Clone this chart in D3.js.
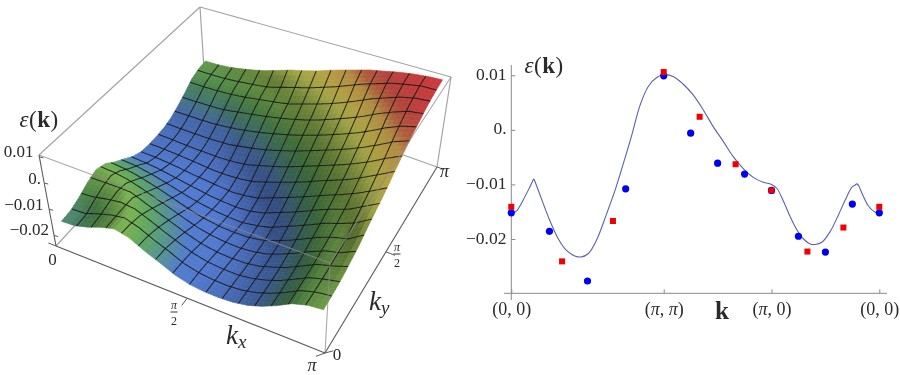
<!DOCTYPE html>
<html>
<head>
<meta charset="utf-8">
<script src="https://cdn.jsdelivr.net/npm/d3@7"></script>
<style>
body { margin: 0; background: #fff; }
svg { display: block; filter: blur(0.35px); }
text { font-family: "Liberation Serif", serif; fill: #2a2a2a; }
</style>
</head>
<body>
<div id="wrapper"></div>
<script>
// surface heights in units of 1e-4, one row per ky step, one column per kx step
const surfaceRows = [
  [-153,-150,-135,-115,-101,-113,-142,-165,-190,-205,-211,-212,-208,-198,-180,-155,-125,-108,-102],
  [-150,-148,-129,-112,-102,-118,-145,-167,-193,-206,-212,-213,-209,-197,-179,-154,-124,-108,-100],
  [-135,-129,-115,-107,-107,-129,-154,-176,-197,-209,-214,-215,-209,-196,-177,-151,-123,-107,-96],
  [-115,-112,-107,-100,-122,-145,-166,-187,-205,-214,-217,-217,-209,-194,-175,-149,-120,-105,-88],
  [-101,-102,-107,-122,-143,-161,-181,-200,-213,-220,-221,-217,-208,-189,-168,-141,-116,-101,-78],
  [-113,-118,-129,-145,-161,-180,-197,-213,-220,-224,-225,-218,-205,-184,-158,-132,-110,-97,-67],
  [-142,-145,-154,-166,-181,-197,-213,-221,-228,-228,-225,-215,-195,-173,-149,-123,-103,-88,-50],
  [-165,-167,-176,-187,-200,-213,-221,-228,-231,-232,-221,-208,-185,-162,-138,-113,-95,-70,-36],
  [-190,-193,-197,-205,-213,-220,-228,-231,-233,-227,-214,-192,-172,-149,-124,-103,-84,-53,-22],
  [-205,-206,-209,-214,-220,-224,-228,-232,-227,-217,-197,-177,-156,-134,-111,-90,-66,-38,-7],
  [-211,-212,-214,-217,-221,-225,-225,-221,-214,-197,-179,-160,-140,-117,-96,-75,-48,-19,12],
  [-212,-213,-215,-217,-217,-218,-215,-208,-192,-177,-160,-140,-120,-99,-79,-56,-30,0,29],
  [-208,-209,-209,-209,-208,-205,-195,-185,-172,-156,-140,-120,-100,-80,-59,-35,-9,22,45],
  [-198,-197,-196,-194,-189,-184,-173,-162,-149,-134,-117,-99,-80,-60,-38,-14,15,43,61],
  [-180,-179,-177,-175,-168,-158,-149,-138,-124,-111,-96,-79,-59,-38,-16,11,40,60,72],
  [-158,-157,-154,-151,-143,-133,-123,-113,-103,-90,-75,-56,-35,-14,11,38,58,78,84],
  [-132,-131,-129,-125,-120,-112,-103,-95,-84,-66,-48,-30,-9,15,40,58,78,88,93],
  [-120,-119,-117,-112,-105,-98,-88,-70,-53,-38,-19,0,22,43,60,78,88,98,99],
  [-116,-114,-108,-98,-86,-72,-54,-36,-22,-7,12,29,45,61,72,84,93,99,102]
];
const surfaceTicksZ = [0.01, 0, -0.01, -0.02];
const surfaceLabelsZ = ["0.01", "0.", "\u22120.01", "\u22120.02"];
const colorStopsZ = [-235, -190, -155, -125, -90, -40, -5, 30, 50, 70, 102];
const colorStops = ["#4a6cc0", "#4a70ba", "#4d8a78", "#5a9a50", "#7fa848", "#aab24a", "#c4b04a", "#c49a48", "#bb6440", "#bf4640", "#cc383c"];

// line along the path (0,0) -> (pi,pi) -> (pi,0) -> (0,0), x in units of pi
const curveK = [0,.047,.109,.171,.195,.208,.222,.279,.357,.434,.512,.589,.645,.713,.791,.884,.962,1.039,1.117,1.194,1.272,1.349,1.414,
  1.501,1.594,1.687,1.78,1.873,1.966,2.059,2.152,2.245,2.338,2.414,2.463,2.525,2.587,2.649,2.711,2.773,2.82,2.881,2.959,3.037,3.099,3.16,3.19,3.207,3.224,3.253,3.315,3.377,3.414];
const curveE = [-.0154,-.0149,-.0129,-.0105,-.0095,-.009,-.0096,-.0126,-.0166,-.0199,-.0221,-.0231,-.0233,-.0227,-.0202,-.0154,-.0111,-.0062,-.001,.0045,.008,.0096,.0101,
  .0098,.0084,.0064,.0037,.0006,-.0021,-.0049,-.0071,-.0087,-.0096,-.0100,-.0107,-.0131,-.0159,-.0183,-.02,-.0209,-.021,-.0206,-.0186,-.0155,-.0128,-.0105,-.0101,-.0099,-.0103,-.0116,-.014,-.0151,-.0152];
const blueK = [0,.354,.707,1.061,1.414,1.664,1.914,2.164,2.414,2.664,2.914,3.164,3.414];
const blueE = [-.0152,-.0186,-.0277,-.0108,.0099,-.0006,-.0061,-.0081,-.0111,-.0195,-.0224,-.0136,-.0152];
const redK = [0,.471,.943,1.414,1.747,2.081,2.414,2.747,3.081,3.414];
const redE = [-.0141,-.0241,-.0167,.0106,.0024,-.0063,-.0111,-.0223,-.0179,-.0141];
const pathTicksK = [0, 1.414, 2.414, 3.414];
const pathLabels = ["(0, 0)", "(\u03c0, \u03c0)", "(\u03c0, 0)", "(0, 0)"];
const pathTicksE = [0.01, 0, -0.01, -0.02];
const pathLabelsE = ["0.01", "0.", "\u22120.01", "\u22120.02"];

const svg = d3.select("#wrapper").append("svg").attr("width", 900).attr("height", 375);

// ---------- 3d box, projected with one homography per horizontal plane
function homography(p) {
  const [x0,y0] = p[0], [x1,y1] = p[1], [x2,y2] = p[2], [x3,y3] = p[3];
  const dx1 = x1-x2, dx2 = x3-x2, sx = x0-x1+x2-x3;
  const dy1 = y1-y2, dy2 = y3-y2, sy = y0-y1+y2-y3;
  const den = dx1*dy2 - dx2*dy1;
  const g = (sx*dy2 - dx2*sy)/den, h = (dx1*sy - sx*dy1)/den;
  const a = x1-x0+g*x1, b = x3-x0+h*x3, d = y1-y0+g*y1, e = y3-y0+h*y3;
  return (u, v) => {
    const w = g*u + h*v + 1;
    return [(a*u + b*v + x0)/w, (d*u + e*v + y0)/w];
  };
}
const bottomPlane = homography([[56,246],[325,353],[437,167],[205,84]]);
const topPlane = homography([[39,155],[330,263],[451,77],[200,7]]);
const zScale = d3.scaleLinear().domain([-.024, .0107]).range([0, 1]);
const boxPad = d3.scaleLinear().domain([0, 1]).range([.022, .978]);  // surface sits inside the box
function project(u, v, z) {
  const w = zScale(z), b = bottomPlane(boxPad(u), boxPad(v)), t = topPlane(boxPad(u), boxPad(v));
  return [b[0] + (t[0]-b[0])*w, b[1] + (t[1]-b[1])*w];
}

const n = surfaceRows.length - 1;
// height at a fractional position of the read grid
function heightAt(u, v) {
  const fi = Math.min(u*n, n-1e-6), fj = Math.min(v*n, n-1e-6);
  const i = Math.floor(fi), j = Math.floor(fj), a = fi-i, b = fj-j;
  return (surfaceRows[j][i]*(1-a)*(1-b) + surfaceRows[j][i+1]*a*(1-b)
    + surfaceRows[j+1][i]*(1-a)*b + surfaceRows[j+1][i+1]*a*b);
}
const heightColor = d3.scaleLinear().domain(colorStopsZ).range(colorStops).clamp(true);
const shadeReach = d3.scaleLinear().domain([-150, -90, -30]).range([1, 1, .25]).clamp(true);

function cellColor(u, v) {
  const h = .5/n, z = heightAt(u, v);
  const dzu = (heightAt(Math.min(u+h,1), v) - heightAt(Math.max(u-h,0), v));
  const dzv = (heightAt(u, Math.min(v+h,1)) - heightAt(u, Math.max(v-h,0)));
  const raw = shadeReach(z)*(-.012*dzu - .004*dzv);
  const shade = 1 + Math.max(-.36, Math.min(.1, raw));
  const c = d3.rgb(heightColor(z));
  return d3.rgb(c.r*shade, c.g*shade, c.b*shade).formatHex();
}

const sub = n*3;
const cells = [];
// painter's order: far corner first
for (let j = sub-1; j >= 0; j--) {
  for (let i = 0; i < sub; i++) cells.push({u0: i/sub, u1: (i+1)/sub, v0: j/sub, v1: (j+1)/sub});
}
const surfacePoint = (u, v) => project(u, v, heightAt(u, v)/1e4);

// back edges of the box go under the surface
const boxStroke = "#a4a4a4";
const backEdges = [
  [[0,1,0],[0,1,1]], [[0,0,1],[0,1,1]], [[0,1,1],[1,1,1]], [[0,0,0],[0,1,0]], [[0,1,0],[1,1,0]], [[1,1,0],[1,1,1]]
];
function boxPoint(c) {
  const b = bottomPlane(c[0], c[1]), t = topPlane(c[0], c[1]);
  return c[2] ? t : b;
}
svg.append("g").selectAll("line").data(backEdges).join("line")
  .attr("x1", d => boxPoint(d[0])[0]).attr("y1", d => boxPoint(d[0])[1])
  .attr("x2", d => boxPoint(d[1])[0]).attr("y2", d => boxPoint(d[1])[1])
  .attr("stroke", boxStroke).attr("stroke-width", 1.2);

svg.append("g").selectAll("polygon").data(cells).join("polygon")
  .attr("points", d => [surfacePoint(d.u0,d.v0), surfacePoint(d.u1,d.v0), surfacePoint(d.u1,d.v1), surfacePoint(d.u0,d.v1)].join(" "))
  .attr("fill", d => cellColor((d.u0+d.u1)/2, (d.v0+d.v1)/2))
  .attr("stroke", d => cellColor((d.u0+d.u1)/2, (d.v0+d.v1)/2))
  .attr("stroke-width", .6);

// mesh, 15 lines each way like the original plot
const meshLine = d3.line();
const meshT = d3.range(0, 145).map(d => d/144);
const meshG = svg.append("g").attr("fill", "none").attr("stroke", "#141414").attr("stroke-opacity", .82).attr("stroke-width", 1.05);
d3.range(1, 16).forEach(k => {
  meshG.append("path").attr("d", meshLine(meshT.map(t => surfacePoint(k/16, t))));
  meshG.append("path").attr("d", meshLine(meshT.map(t => surfacePoint(t, k/16))));
});

// front edges over the surface
const frontEdges = [[[0,0,1],[1,0,1]], [[1,0,1],[1,1,1]], [[1,0,0],[1,0,1]]];
svg.append("g").selectAll("line").data(frontEdges).join("line")
  .attr("x1", d => boxPoint(d[0])[0]).attr("y1", d => boxPoint(d[0])[1])
  .attr("x2", d => boxPoint(d[1])[0]).attr("y2", d => boxPoint(d[1])[1])
  .attr("stroke", "#8c8c8c").attr("stroke-opacity", .75).attr("stroke-width", 1.1);

// axes with ticks
const axisEdges = [[[0,0,0],[0,0,1]], [[0,0,0],[1,0,0]], [[1,0,0],[1,1,0]]];
svg.append("g").selectAll("line").data(axisEdges).join("line")
  .attr("x1", d => boxPoint(d[0])[0]).attr("y1", d => boxPoint(d[0])[1])
  .attr("x2", d => boxPoint(d[1])[0]).attr("y2", d => boxPoint(d[1])[1])
  .attr("stroke", "#5a5a5a").attr("stroke-width", 1.1);

const floorTicks = [
  [0,0,-.03,0], [.5,0,0,-.035], [1,0,-.02,-.025], [1,0,.02,.02], [1,.5,.035,0], [1,1,.03,0]
];
svg.append("g").selectAll("line").data(floorTicks).join("line")
  .attr("x1", d => bottomPlane(d[0],d[1])[0]).attr("y1", d => bottomPlane(d[0],d[1])[1])
  .attr("x2", d => bottomPlane(d[0]+d[2],d[1]+d[3])[0]).attr("y2", d => bottomPlane(d[0]+d[2],d[1]+d[3])[1])
  .attr("stroke", "#5a5a5a").attr("stroke-width", 1);
const boxCorner = [0, 0];
svg.append("g").selectAll("line").data(surfaceTicksZ).join("line")
  .attr("x1", d => { const b = bottomPlane(...boxCorner), t = topPlane(...boxCorner); return b[0] + (t[0]-b[0])*zScale(d); })
  .attr("y1", d => { const b = bottomPlane(...boxCorner), t = topPlane(...boxCorner); return b[1] + (t[1]-b[1])*zScale(d); })
  .attr("x2", d => { const b = bottomPlane(...boxCorner), t = topPlane(...boxCorner); return b[0] + (t[0]-b[0])*zScale(d) + 4; })
  .attr("y2", d => { const b = bottomPlane(...boxCorner), t = topPlane(...boxCorner); return b[1] + (t[1]-b[1])*zScale(d) + 1; })
  .attr("stroke", "#5a5a5a").attr("stroke-width", 1);

function label(x, y, str, size, anchor, style) {
  const t = svg.append("text").attr("x", x).attr("y", y).attr("font-size", size)
    .attr("text-anchor", anchor || "middle").text(str);
  if (style) t.attr("font-style", style);
  return t;
}
function epsLabel(x, y, size) {
  const t = svg.append("text").attr("x", x).attr("y", y).attr("font-size", size).attr("text-anchor", "middle").attr("letter-spacing", .5);
  t.append("tspan").attr("font-style", "italic").text("\u03b5");
  t.append("tspan").text("(");
  t.append("tspan").attr("font-weight", "bold").text("k");
  t.append("tspan").text(")");
}
function fraction(x, yBar, size) {
  label(x, yBar-3, "\u03c0", size, "middle", "italic");
  svg.append("line").attr("x1", x-3.5).attr("x2", x+3.5).attr("y1", yBar).attr("y2", yBar).attr("stroke", "#333");
  label(x, yBar+12.5, "2", size);
}
function subLabel(x, y, sub) {
  const t = svg.append("text").attr("x", x).attr("y", y).attr("font-size", 27).attr("font-style", "italic");
  t.append("tspan").text("k");
  t.append("tspan").attr("font-size", 19).attr("dy", 4).text(sub);
}

epsLabel(39, 127, 23);
const zLabelRight = [33.5, 41, 43.5, 49];
const zLabelBase = [157, 184, 210, 235];
surfaceLabelsZ.forEach((s, i) => label(zLabelRight[i], zLabelBase[i], s, 17, "end"));
label(52.5, 265, "0", 17);
fraction(174, 312, 12);
label(312, 371, "\u03c0", 18, "middle", "italic");
label(337, 360, "0", 17);
fraction(397, 254, 12);
label(444.5, 177, "\u03c0", 18, "middle", "italic");
subLabel(226, 344, "x");
subLabel(369, 310, "y");

// ---------- right panel
const xPath = d3.scaleLinear().domain([0, 3.414]).range([511.3, 879.3]);
const yPath = d3.scaleLinear().domain([-.02, .01]).range([239, 75.3]);
const axisColor = "#8a8a8a";

const xAxisG = svg.append("g").attr("transform", "translate(0,293.3)")
  .call(d3.axisBottom(xPath).tickValues(pathTicksK).tickSize(-4).tickFormat(""));
xAxisG.select(".domain").remove();
xAxisG.selectAll("line").attr("stroke", axisColor);
svg.append("line").attr("x1", 504).attr("x2", 887).attr("y1", 293.3).attr("y2", 293.3).attr("stroke", axisColor);

const yAxisG = svg.append("g").attr("transform", "translate(511.3,0)")
  .call(d3.axisLeft(yPath).tickValues(pathTicksE).tickSize(-4).tickFormat(""));
yAxisG.select(".domain").remove();
yAxisG.selectAll("line").attr("stroke", axisColor);
svg.append("line").attr("x1", 511.3).attr("x2", 511.3).attr("y1", 65).attr("y2", 300).attr("stroke", axisColor);

pathTicksE.forEach((e, i) => label(506.5, yPath(e)+4.5, pathLabelsE[i], 17.5, "end"));
pathTicksK.forEach((k, i) => {
  const t = svg.append("text").attr("x", xPath(k)+.5).attr("y", 315).attr("font-size", 18).attr("text-anchor", "middle");
  const [a, b] = pathLabels[i].split(", ");
  t.append("tspan").text("(");
  t.append("tspan").attr("font-style", a.includes("\u03c0") ? "italic" : "normal").text(a.slice(1));
  t.append("tspan").text(", ");
  t.append("tspan").attr("font-style", b.includes("\u03c0") ? "italic" : "normal").text(b.slice(0, -1));
  t.append("tspan").text(")");
});
epsLabel(544, 73, 23);
svg.append("text").attr("x", 722).attr("y", 319).attr("font-size", 25).attr("font-weight", "bold")
  .attr("text-anchor", "middle").text("k");

const curveLine = d3.line().x(d => xPath(d[0])).y(d => yPath(d[1])).curve(d3.curveCatmullRom.alpha(.5));
svg.append("path").attr("d", curveLine(d3.zip(curveK, curveE)))
  .attr("fill", "none").attr("stroke", "#5a62ad").attr("stroke-width", 1.1);

svg.append("g").selectAll("circle").data(d3.zip(blueK, blueE)).join("circle")
  .attr("cx", d => xPath(d[0])).attr("cy", d => yPath(d[1])).attr("r", 3.6).attr("fill", "#0000f0");
svg.append("g").selectAll("rect").data(d3.zip(redK, redE)).join("rect")
  .attr("x", d => xPath(d[0])-3).attr("y", d => yPath(d[1])-3).attr("width", 6).attr("height", 6).attr("fill", "#f00000");
</script>
</body>
</html>
